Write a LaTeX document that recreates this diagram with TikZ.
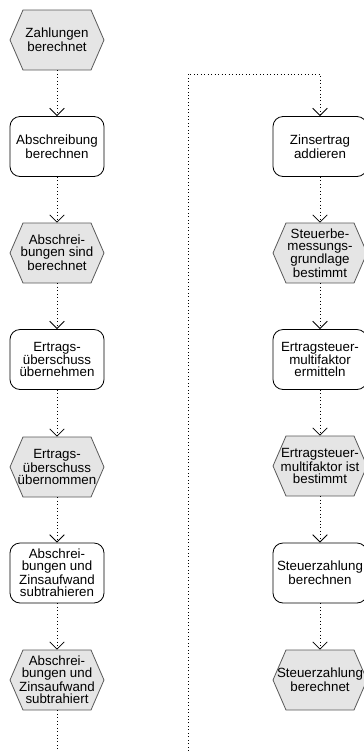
\documentclass[tikz,border=0pt]{standalone}
\usepackage{fontspec}
\setmainfont{Liberation Sans}
\usetikzlibrary{arrows.meta}

\begin{document}
\begin{tikzpicture}[x=0.75pt,y=-0.75pt]
%styles
	\tikzset{
	func/.style={rectangle, rounded corners=7.5pt, draw, line width=0.6pt, minimum width=70.5pt, minimum height=45pt, inner sep=0pt, align=center, font=\fontsize{10}{9}\selectfont},
	event/.style={rectangle, minimum width=70.5pt, minimum height=45pt, inner sep=0pt, align=center, font=\fontsize{10}{9}\selectfont},
	hexa/.style={draw=black!65, fill=black!10, line width=0.6pt},
	flow/.style={dotted, line width=0.6pt, -{Straight Barb[length=5.5pt,width=11pt]}}}

	\useasboundingbox (0,0) rectangle (364,751);
	\clip (0,0) rectangle (364,751);

%Sechsecke
	\foreach \x/\y in {57/40,57/253,57/467,57/680,320/253,320/466,320/680}
		\filldraw[hexa] (\x-47,\y)--++(13,-30)--++(68,0)--++(13,30)--++(-13,30)--++(-68,0)--cycle;

%links
	\node[event] (zb) at (57,40) {Zahlungen\\berechnet};
	\node[func] (ab) at (57,146.5) {Abschreibung\\berechnen};
	\node[event] (abb) at (57,253) {Abschrei-\\bungen sind\\berechnet};
	\node[func] (eu) at (57,359.5) {Ertrags-\\überschuss\\übernehmen};
	\node[event] (eub) at (57,467) {Ertrags-\\überschuss\\übernommen};
	\node[func] (as) at (57,573) {Abschrei-\\bungen und\\Zinsaufwand\\subtrahieren};
	\node[event] (asb) at (57,680) {Abschrei-\\bungen und\\Zinsaufwand\\subtrahiert};

%rechts
	\node[func] (za) at (320,146.5) {Zinsertrag\\addieren};
	\node[event] (sbg) at (320,253) {Steuerbe-\\messungs-\\grundlage\\bestimmt};
	\node[func] (em) at (320,359.5) {Ertragsteuer-\\multifaktor\\ermitteln};
	\node[event] (emb) at (320,466) {Ertragsteuer-\\multifaktor ist\\bestimmt};
	\node[func] (sz) at (320,573) {Steuerzahlung\\berechnen};
	\node[event] (szb) at (320,680) {Steuerzahlung\\berechnet};

%Kanten
	\draw[flow] (zb) -- (ab);
	\draw[flow] (ab) -- (abb);
	\draw[flow] (abb) -- (eu);
	\draw[flow] (eu) -- (eub);
	\draw[flow] (eub) -- (as);
	\draw[flow] (as) -- (asb);
	\coordinate (aus) at (57,751);
	\draw[dotted, line width=0.6pt] (asb) -- (aus);

	\coordinate (ein) at (188,751);
	\coordinate (knick) at (188,74);
	\draw[flow] (ein) -- (knick) -| (za);
	\draw[flow] (za) -- (sbg);
	\draw[flow] (sbg) -- (em);
	\draw[flow] (em) -- (emb);
	\draw[flow] (emb) -- (sz);
	\draw[flow] (sz) -- (szb);
\end{tikzpicture}
\end{document}
